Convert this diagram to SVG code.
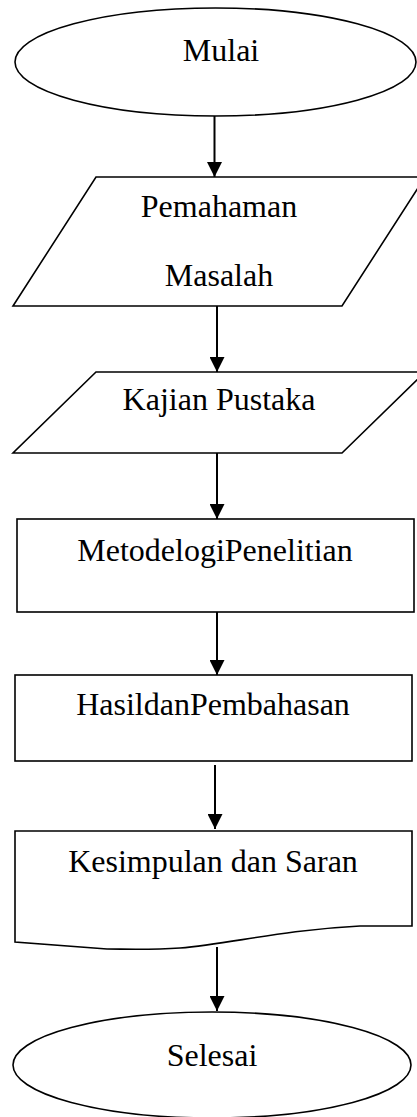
<svg xmlns="http://www.w3.org/2000/svg" width="417" height="1117" viewBox="0 0 417 1117">
<defs>
<style>
.s{fill:#fff;stroke:#000;stroke-width:1.6}
.t{font-family:"Liberation Serif","Times New Roman",serif;font-size:32px;fill:#000;text-anchor:middle}
.c{stroke:#000;stroke-width:2;fill:none}
</style>
<marker id="a" markerWidth="16" markerHeight="15" refX="15" refY="7.5" orient="auto" markerUnits="userSpaceOnUse">
<path d="M0,0 L15,7.5 L0,15 Z" fill="#000"/>
</marker>
</defs>
<rect width="417" height="1117" fill="#fff"/>
<g id="connectors">
<line class="c" x1="214.5" y1="116" x2="214.5" y2="177" marker-end="url(#a)"/>
<line class="c" x1="217" y1="306" x2="217" y2="372" marker-end="url(#a)"/>
<line class="c" x1="217" y1="453" x2="217" y2="519" marker-end="url(#a)"/>
<line class="c" x1="217" y1="612" x2="217" y2="675" marker-end="url(#a)"/>
<line class="c" x1="215" y1="765" x2="215" y2="829" marker-end="url(#a)"/>
<line class="c" x1="217" y1="947" x2="217" y2="1011" marker-end="url(#a)"/>
</g>
<g id="mulai">
<ellipse class="s" cx="215.5" cy="62" rx="200.5" ry="54"/>
<text class="t" x="221" y="61">Mulai</text>
</g>
<g id="pemahaman">
<polygon class="s" points="96,177 425,177 342,306 13,306"/>
<text class="t" x="219" y="217">Pemahaman</text>
<text class="t" x="219" y="286">Masalah</text>
</g>
<g id="kajian">
<polygon class="s" points="96,372 425,372 342,453 13,453"/>
<text class="t" x="219" y="410">Kajian Pustaka</text>
</g>
<g id="metodelogi">
<rect class="s" x="17" y="519" width="397" height="93"/>
<text class="t" x="215" y="561">MetodelogiPenelitian</text>
</g>
<g id="hasil">
<rect class="s" x="15" y="675" width="397" height="86"/>
<text class="t" x="213" y="715">HasildanPembahasan</text>
</g>
<g id="kesimpulan">
<path class="s" d="M15,831 H412 V926 H360 C280,930 230,944 180,948 C150,950 125,949 107,949 L15,942 Z"/>
<text class="t" x="213" y="872">Kesimpulan dan Saran</text>
</g>
<g id="selesai">
<ellipse class="s" cx="212" cy="1065" rx="199" ry="53"/>
<text class="t" x="212" y="1066">Selesai</text>
</g>
</svg>
